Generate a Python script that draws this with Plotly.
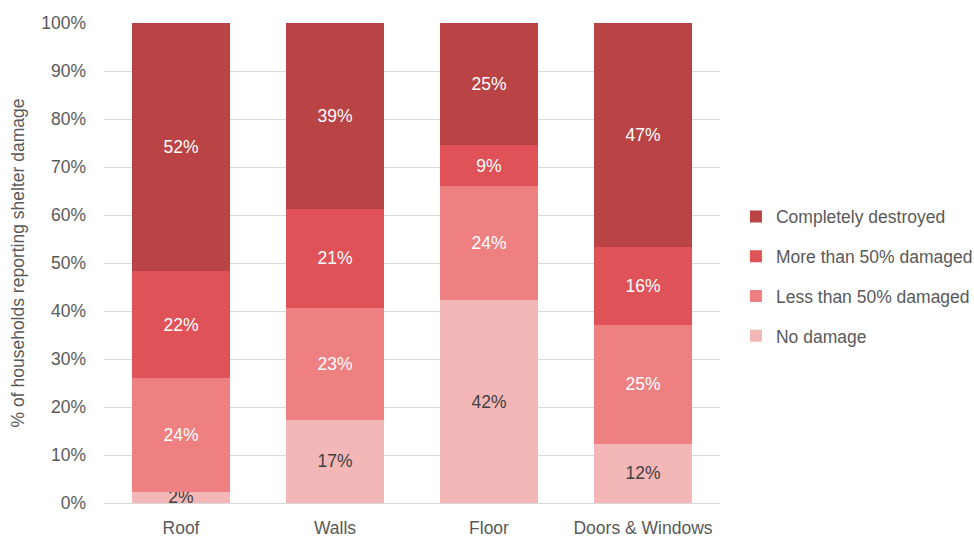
import plotly.graph_objects as go

categories = ["Roof", "Walls", "Floor", "Doors & Windows"]
no_damage = [2.3, 17.3, 42.2, 12.3]
less_50 = [23.7, 23.3, 23.8, 24.8]
more_50 = [22.3, 20.7, 8.6, 16.2]
destroyed = [51.7, 38.7, 25.4, 46.7]

series = [
    ("No damage", no_damage, "#F4B7B7", "#404040"),
    ("Less than 50% damaged", less_50, "#EF8081", "#FFFFFF"),
    ("More than 50% damaged", more_50, "#DF5358", "#FFFFFF"),
    ("Completely destroyed", destroyed, "#BA4345", "#FFFFFF"),
]
y_ticks = list(range(0, 101, 10))
y_tick_labels = [f"{v}%" for v in y_ticks]

FONT = "Liberation Sans, Arial, sans-serif"
FS = 17.5

fig = go.Figure()
for i, (name, vals, color, tcolor) in enumerate(series):
    fig.add_trace(go.Bar(
        name=name, x=categories, y=vals,
        marker=dict(color=color, line=dict(width=0)),
        text=[f"{v:.0f}%" for v in vals],
        textposition="inside", insidetextanchor="middle",
        constraintext="none",
        textfont=dict(family=FONT, size=FS, color=tcolor),
        legendgroup=f"g{i}",
        legendrank=10 - i,
        width=0.64,
        hoverinfo="skip",
    ))

fig.update_layout(
    barmode="stack",
    width=974, height=537,
    margin=dict(l=104, r=254, t=23, b=34),
    plot_bgcolor="white", paper_bgcolor="white",
    font=dict(family=FONT, size=FS, color="#595959"),
    showlegend=True,
    legend=dict(
        traceorder="grouped", tracegroupgap=14,
        xref="container", x=0.7556, xanchor="left",
        yref="paper", y=0.634, yanchor="top",
        font=dict(family=FONT, size=FS, color="#595959"),
        itemclick=False,
    ),
)
fig.update_yaxes(
    range=[0, 100], tickvals=y_ticks, ticktext=y_tick_labels,
    showgrid=True, gridcolor="#D9D9D9", gridwidth=1,
    zeroline=True, zerolinecolor="#D9D9D9", zerolinewidth=1,
    showline=False, ticks="", ticklen=0, ticklabelstandoff=17,
    automargin=False,
    tickfont=dict(family=FONT, size=FS, color="#595959"),
    title=dict(text="% of households reporting shelter damage",
               font=dict(family=FONT, size=FS, color="#595959"), standoff=12),
)
fig.update_xaxes(
    showgrid=False, showline=False, ticks="", ticklabelstandoff=12,
    automargin=False,
    tickfont=dict(family=FONT, size=FS, color="#595959"),
)

fig.write_html(
    "out.html",
    config={"displayModeBar": False},
    post_script="document.body.style.margin='0';document.body.style.overflow='hidden';",
)
